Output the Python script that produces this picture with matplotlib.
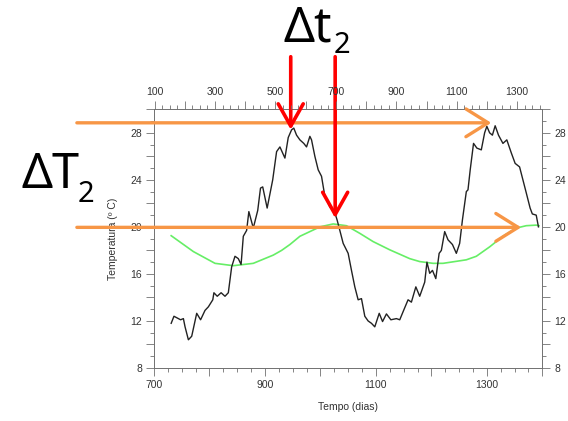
import matplotlib
matplotlib.use('Agg')
import matplotlib.pyplot as plt
from matplotlib.ticker import MultipleLocator, FuncFormatter

# temperature record (black)
temp_days = [731, 736, 744, 748, 753, 756, 762, 768, 777, 784,
             792, 798, 806, 808, 814, 821, 828, 834, 840, 846,
             852, 857, 861, 867, 871, 879, 887, 892, 896, 904,
             914, 921, 927, 936, 942, 948, 952, 957, 963, 970,
             975, 981, 984, 990, 996, 1002, 1008, 1017, 1026, 1030,
             1035, 1041, 1050, 1056, 1062, 1068, 1074, 1080, 1086, 1092,
             1098, 1106, 1112, 1119, 1127, 1137, 1143, 1150, 1158, 1164,
             1172, 1179, 1188, 1192, 1197, 1202, 1208, 1214, 1218, 1224,
             1230, 1238, 1245, 1251, 1256, 1263, 1266, 1270, 1276, 1282,
             1290, 1296, 1300, 1305, 1310, 1315, 1321, 1329, 1336, 1344,
             1351, 1359, 1365, 1371, 1378, 1382, 1389, 1393]
temps = [11.8, 12.4, 12.2, 12.1, 12.2, 11.5, 10.4, 10.7, 12.65, 12.1,
         12.9, 13.2, 13.8, 14.4, 14.1, 14.4, 14.1, 14.4, 16.6, 17.5,
         17.3, 16.8, 19.2, 19.7, 21.3, 19.9, 21.4, 23.3, 23.4, 21.6,
         24.0, 26.4, 26.8, 25.85, 27.6, 28.25, 28.4, 27.8, 27.4, 27.1,
         26.8, 27.7, 27.4, 26.0, 24.85, 24.3, 22.6, 21.7, 21.2, 20.6,
         19.7, 18.6, 17.75, 16.3, 14.9, 13.8, 13.9, 12.4, 12.0, 11.8,
         11.5, 12.65, 11.95, 12.6, 12.1, 12.2, 12.1, 12.9, 13.8, 13.6,
         14.9, 14.1, 15.3, 17.0, 16.05, 16.3, 15.6, 17.75, 18.0, 19.6,
         18.9, 18.5, 17.75, 18.6, 20.6, 23.0, 23.15, 24.85, 27.1, 26.7,
         26.55, 28.0, 28.55, 28.0, 27.8, 28.6, 27.8, 27.1, 27.4, 26.3,
         25.4, 25.1, 24.0, 22.9, 21.6, 21.1, 21.0, 20.0]

# damped response (green)
green_days = [731, 771, 810, 843, 879, 915, 930, 945, 963, 981, 999, 1023,
              1047, 1071, 1095, 1125, 1161, 1179, 1203, 1221, 1263, 1281,
              1305, 1329, 1353, 1371, 1389, 1394]
green_temps = [19.25, 17.9, 16.9, 16.7, 16.9, 17.6, 18.0, 18.5, 19.2, 19.6, 20.0, 20.25,
               20.1, 19.45, 18.75, 18.05, 17.3, 17.05, 16.9, 16.9, 17.2, 17.5,
               18.3, 19.2, 19.9, 20.1, 20.15, 20.1]

# annotation anchors (data units)
peak_levels = [28.85, 19.96]
peak_ends = [1308, 1362]
lag_days = [946.5, 1026.6]
lag_tips = [28.26, 20.74]

orange = '#F79646'
red = '#FF0000'
gray = '#707070'

plt.rcParams['font.family'] = ['Liberation Sans', 'DejaVu Sans']

fig = plt.figure(figsize=(5.68, 4.21), dpi=100)
ax = fig.add_axes([0.2711, 0.1259, 0.6837, 0.6145])

ax.plot(green_days, green_temps, color='#66EE66', lw=1.2)
ax.plot(temp_days, temps, color='#222222', lw=1.0)

ax.set_xlim(700, 1400)
ax.set_ylim(8, 30)
ax.xaxis.set_major_locator(MultipleLocator(100))
ax.xaxis.set_minor_locator(MultipleLocator(25))
ax.xaxis.set_major_formatter(FuncFormatter(lambda v, p: '%d' % v if int(v) % 200 == 100 else ''))
ax.yaxis.set_major_locator(MultipleLocator(2))
ax.yaxis.set_minor_locator(MultipleLocator(1))
ax.yaxis.set_major_formatter(FuncFormatter(lambda v, p: '%d' % v if int(v) % 4 == 0 else ''))
ax.tick_params(which='both', direction='out', color=gray, width=0.6,
               labelsize=7.5, labelcolor='#333333', right=True, labelright=True)
ax.tick_params(which='major', length=5.5, pad=3)
ax.tick_params(which='minor', length=3)
for s in ax.spines.values():
    s.set_color(gray)
    s.set_linewidth(0.7)

ax.set_xlabel('Tempo (dias)', fontsize=7.5, color='#333333', labelpad=9)
ax.set_ylabel('Temperatura (º C)', fontsize=7.5, color='#333333', labelpad=9)

top = ax.twiny()
top.set_xlim(98, 1383)
top.xaxis.set_major_locator(MultipleLocator(100))
top.xaxis.set_minor_locator(MultipleLocator(25))
top.xaxis.set_major_formatter(FuncFormatter(lambda v, p: '%d' % v if int(v) % 200 == 100 else ''))
top.tick_params(which='both', direction='out', color=gray, width=0.6,
                labelsize=7.5, labelcolor='#333333')
top.tick_params(which='major', length=5.5, pad=3)
top.tick_params(which='minor', length=3)
for s in top.spines.values():
    s.set_visible(False)

# orange horizontal arrows
for lvl, end in zip(peak_levels, peak_ends):
    ax.annotate('', xy=(end, lvl), xytext=(561, lvl), xycoords='data',
                annotation_clip=False,
                arrowprops=dict(arrowstyle='->,head_length=0.8,head_width=0.5',
                                color=orange, lw=2.4, mutation_scale=20,
                                shrinkA=0, shrinkB=0))

# red vertical arrows
for xd, tip in zip(lag_days, lag_tips):
    ax.annotate('', xy=(xd, tip), xytext=(xd, 34.47), xycoords='data',
                annotation_clip=False,
                arrowprops=dict(arrowstyle='->,head_length=0.8,head_width=0.45',
                                color=red, lw=2.6, mutation_scale=20,
                                shrinkA=0, shrinkB=0))

big = ['Noto Sans', 'DejaVu Sans']
fig.text(284 / 568, 1 - 41 / 421, 'Δt', fontsize=35, family=big, va='baseline')
fig.text(334 / 568, 1 - 53 / 421, '2', fontsize=21, family=big, va='baseline')
fig.text(21 / 568, 1 - 188 / 421, 'ΔT', fontsize=35, family=big, va='baseline')
fig.text(78 / 568, 1 - 202 / 421, '2', fontsize=21, family=big, va='baseline')

fig.savefig('out.png', dpi=100)
